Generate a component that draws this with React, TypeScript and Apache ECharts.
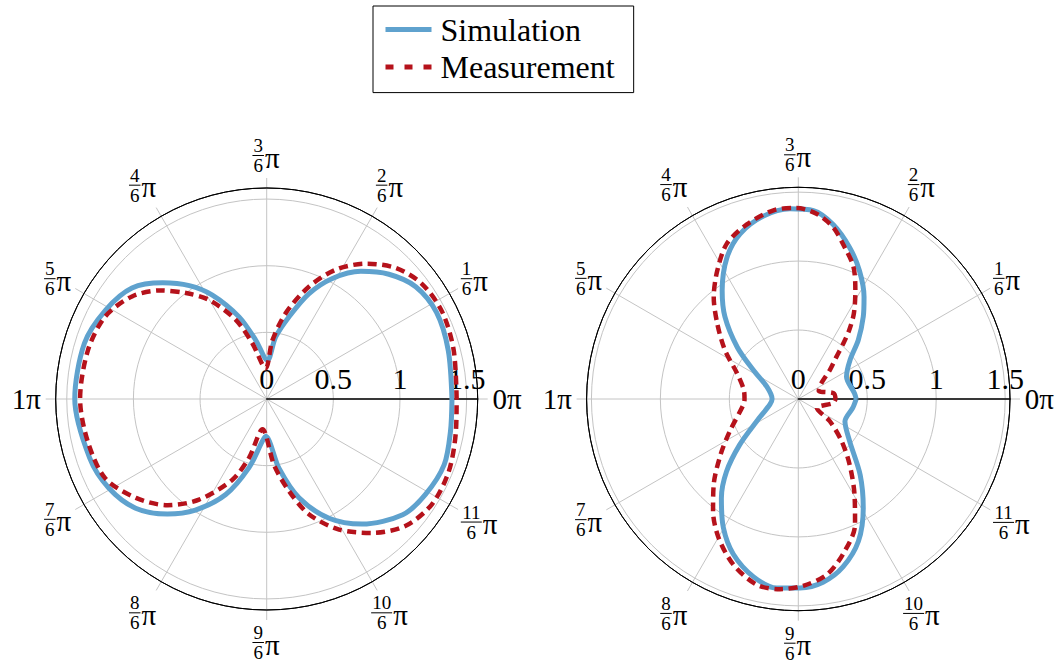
import React, { useEffect, useRef } from 'react';
import * as echarts from 'echarts';

const FONT = '"Liberation Serif", "Times New Roman", serif';
const BLUE = '#5fa2ce';
const RED = '#b5121b';
const GRID = '#c4c4c4';

const seriesNames = ['Simulation', 'Measurement'];

// Radiation patterns as [angle in degrees, magnitude]
const leftSimulation: [number, number][] = [
  [0, 1.39], [15, 1.41], [27, 1.43], [37, 1.4], [45.6, 1.31], [53.6, 1.19], [61.4, 1.03],
  [68.2, 0.85], [74.8, 0.64], [81.8, 0.47], [89, 0.29], [100.6, 0.45], [108.6, 0.65],
  [117.6, 0.88], [124.3, 1.03], [131.8, 1.17], [140.5, 1.31], [151, 1.38], [163, 1.43],
  [180, 1.44], [198.4, 1.4], [209.4, 1.36], [219.8, 1.28], [229.2, 1.14], [237.3, 0.99],
  [246.8, 0.78], [255.6, 0.53], [264, 0.32], [268.5, 0.28], [280.1, 0.53], [288.1, 0.78],
  [297.6, 1.01], [307.3, 1.18], [319.6, 1.34], [329, 1.39], [339.7, 1.42], [350, 1.4],
  [360, 1.39],
];

const leftMeasurement: [number, number][] = [
  [0, 1.425], [14.7, 1.45], [26.4, 1.47], [36.6, 1.45], [45.4, 1.38], [53.7, 1.26],
  [61.9, 1.1], [69.4, 0.9], [77.5, 0.66], [84.5, 0.44], [92, 0.23], [104.4, 0.43],
  [111.4, 0.64], [120.2, 0.86], [127.3, 1.0], [134.4, 1.14], [142.7, 1.27], [152.9, 1.36],
  [164.7, 1.39], [180, 1.4], [193.3, 1.38], [206.1, 1.35], [217.1, 1.23], [227, 1.09],
  [236.1, 0.91], [246.9, 0.66], [253.3, 0.46], [262, 0.23], [276.4, 0.5], [283.6, 0.71],
  [290.1, 0.92], [299, 1.12], [308.3, 1.28], [317.5, 1.41], [327.5, 1.47], [338.4, 1.47],
  [350.3, 1.44], [360, 1.425],
];

const rightSimulation: [number, number][] = [
  [0, 0.42], [5.7, 0.41], [24.8, 0.385], [37, 0.47], [44.5, 0.61], [51.7, 0.76],
  [57.2, 0.88], [64.5, 1.03], [71.3, 1.16], [78.7, 1.29], [85.4, 1.37], [92.5, 1.38],
  [100.8, 1.35], [109.4, 1.27], [116.7, 1.15], [125.1, 0.96], [131.7, 0.8], [139.7, 0.58],
  [147.2, 0.39], [158.7, 0.245], [180, 0.19], [191, 0.21], [208, 0.34], [218, 0.54],
  [225.3, 0.74], [232.2, 0.91], [239.8, 1.08], [247.3, 1.22], [255.9, 1.33], [263.5, 1.38],
  [270.5, 1.37], [277.7, 1.34], [284.9, 1.26], [292.9, 1.12], [300.8, 0.92], [309.2, 0.71],
  [320.7, 0.48], [334.4, 0.375], [350.7, 0.4], [360, 0.42],
];

const rightMeasurement: [number, number][] = [
  [0, 0.27], [9.2, 0.26], [22, 0.16], [34, 0.2], [42.5, 0.31], [47.8, 0.41], [51, 0.52],
  [53.5, 0.62], [57, 0.74], [62.3, 0.89], [67.4, 1.04], [73, 1.15], [78.5, 1.27],
  [84.4, 1.35], [90.5, 1.385], [97.5, 1.38], [106.4, 1.32], [114.7, 1.24], [122.3, 1.1],
  [129.7, 0.96], [137.2, 0.8], [146.3, 0.64], [157.4, 0.48], [170.7, 0.4], [180, 0.39],
  [185.9, 0.4], [205.3, 0.55], [215.4, 0.69], [225.2, 0.87], [232.7, 1.02], [240.1, 1.16],
  [248.6, 1.29], [257.4, 1.38], [264.5, 1.385], [271.5, 1.355], [279.2, 1.29], [286.1, 1.17],
  [294.3, 1.0], [300.6, 0.8], [308.2, 0.6], [315.7, 0.44], [324.8, 0.28], [333.9, 0.15],
  [353.5, 0.255], [360, 0.27],
];

const radiusTicks = [0, 0.5, 1, 1.5];
const angleTicks = [0, 30, 60, 90, 120, 150, 180, 210, 240, 270, 300, 330];
const angleNumerators = [0, 1, 2, 3, 4, 5, 6, 7, 8, 9, 10, 11];
const angleDenominator = 6;

// Layout of the two polar panels
const panels = [
  { cx: 266.7, cy: 399, r: 211, max: 1.583, sim: leftSimulation, meas: leftMeasurement },
  { cx: 798.3, cy: 399, r: 211.7, max: 1.535, sim: rightSimulation, meas: rightMeasurement },
];

const LABEL_GAP = 10.5;
const PI_SIZE = 29;
const FRAC_SIZE = 19;

function angleLabel(cx: number, cy: number, R: number, k: number) {
  const theta = (angleTicks[k] * Math.PI) / 180;
  const ux = Math.cos(theta);
  const uy = Math.sin(theta);
  const num = angleNumerators[k];
  const plain = num % angleDenominator === 0;
  let hw: number;
  let hh: number;
  let children: any[];
  if (plain) {
    const txt = `${num / angleDenominator}π`;
    hw = 15.5 + 3.3;
    hh = 14;
    children = [
      {
        type: 'text',
        x: 0,
        y: 0,
        style: { text: txt, fontSize: PI_SIZE, fontFamily: FONT, fill: '#000', align: 'center', verticalAlign: 'middle' },
      },
    ];
  } else {
    const digits = String(num).length;
    const wf = 9.5 * digits;
    const wpi = 15;
    const W = wf + 2 + wpi;
    hw = W / 2 + 3.3;
    hh = 22;
    const left = -W / 2;
    const fx = left + wf / 2;
    children = [
      {
        type: 'text',
        x: fx,
        y: -10,
        style: { text: String(num), fontSize: FRAC_SIZE, fontFamily: FONT, fill: '#000', align: 'center', verticalAlign: 'middle' },
      },
      {
        type: 'line',
        shape: { x1: left - 1, y1: 0, x2: left + wf + 1, y2: 0 },
        style: { stroke: '#000', lineWidth: 1 },
      },
      {
        type: 'text',
        x: fx,
        y: 10,
        style: { text: String(angleDenominator), fontSize: FRAC_SIZE, fontFamily: FONT, fill: '#000', align: 'center', verticalAlign: 'middle' },
      },
      {
        type: 'text',
        x: left + wf + 2,
        y: 2,
        style: { text: 'π', fontSize: PI_SIZE, fontFamily: FONT, fill: '#000', align: 'left', verticalAlign: 'middle' },
      },
    ];
  }
  const tx = Math.abs(ux) > 1e-6 ? hw / Math.abs(ux) : Infinity;
  const ty = Math.abs(uy) > 1e-6 ? hh / Math.abs(uy) : Infinity;
  const t = Math.min(tx, ty);
  const px = cx + (R + LABEL_GAP) * ux + t * ux;
  const py = cy - (R + LABEL_GAP) * uy - t * uy;
  return { type: 'group', x: px, y: py, silent: true, children };
}

export default function App() {
  const ref = useRef<HTMLDivElement>(null);

  useEffect(() => {
    document.body.style.margin = '0';
    if (!ref.current) return;
    const chart = echarts.init(ref.current, undefined, { renderer: 'svg' });

    const polar = panels.map((p) => ({ center: [p.cx, p.cy], radius: p.r }));

    const angleAxis = panels.map((_, i) => ({
      polarIndex: i,
      type: 'value',
      min: 0,
      max: 360,
      interval: 30,
      startAngle: 0,
      clockwise: false,
      axisLine: { show: true, lineStyle: { color: '#000', width: 1 } },
      axisTick: { show: true, length: 10, lineStyle: { color: GRID, width: 1 } },
      axisLabel: { show: false },
      splitLine: { show: true, lineStyle: { color: GRID, width: 1 } },
      z: 2,
    }));

    // Grid circles at 0, 0.5, 1, 1.5; the outermost one is the black frame
    const radiusAxis = panels.map((p, i) => ({
      polarIndex: i,
      type: 'value',
      min: 0,
      max: p.max,
      interval: 0.5,
      axisLine: { show: true, lineStyle: { color: '#000', width: 1.5 } },
      axisTick: { show: false },
      axisLabel: {
        show: true,
        showMaxLabel: false,
        fontSize: 30,
        fontFamily: FONT,
        color: '#000',
        margin: 6,
        formatter: (v: number) => (radiusTicks.some((t) => Math.abs(t - v) < 1e-9) ? String(v) : ''),
      },
      splitLine: { show: true, lineStyle: { color: [GRID, GRID, GRID, GRID, '#000'], width: 1 } },
      z: 3,
    }));

    const series: any[] = [];
    panels.forEach((p, i) => {
      series.push({
        name: seriesNames[0],
        type: 'line',
        coordinateSystem: 'polar',
        polarIndex: i,
        symbol: 'none',
        smooth: 0.3,
        data: p.sim.map(([a, r]) => [r, a]),
        lineStyle: { color: BLUE, width: 5 },
        itemStyle: { color: BLUE },
        z: 5,
      });
      series.push({
        name: seriesNames[1],
        type: 'line',
        coordinateSystem: 'polar',
        polarIndex: i,
        symbol: 'none',
        smooth: 0.3,
        data: p.meas.map(([a, r]) => [r, a]),
        lineStyle: { color: RED, width: 4.5, type: [9, 5.5] },
        itemStyle: { color: RED },
        z: 6,
      });
    });

    const labels: any[] = [];
    panels.forEach((p) => {
      angleTicks.forEach((_, k) => labels.push(angleLabel(p.cx, p.cy, p.r, k)));
    });

    chart.setOption({
      animation: false,
      backgroundColor: '#fff',
      polar,
      angleAxis,
      radiusAxis,
      legend: {
        orient: 'vertical',
        left: 373,
        top: 6,
        padding: [7.5, 19, 9.5, 10],
        itemGap: 5.6,
        itemWidth: 46,
        itemHeight: 14,
        borderColor: '#000',
        borderWidth: 1,
        borderRadius: 0,
        itemStyle: { opacity: 0 },
        textStyle: { fontSize: 32, fontFamily: FONT, color: '#000', padding: [0, 0, 0, 4] },
        data: [
          { name: seriesNames[0], lineStyle: { width: 5, color: BLUE } },
          { name: seriesNames[1], lineStyle: { width: 5, color: RED, type: [8, 11] } },
        ],
      },
      graphic: labels,
      series,
    });

    return () => chart.dispose();
  }, []);

  return <div ref={ref} style={{ width: 1062, height: 664 }} />;
}
